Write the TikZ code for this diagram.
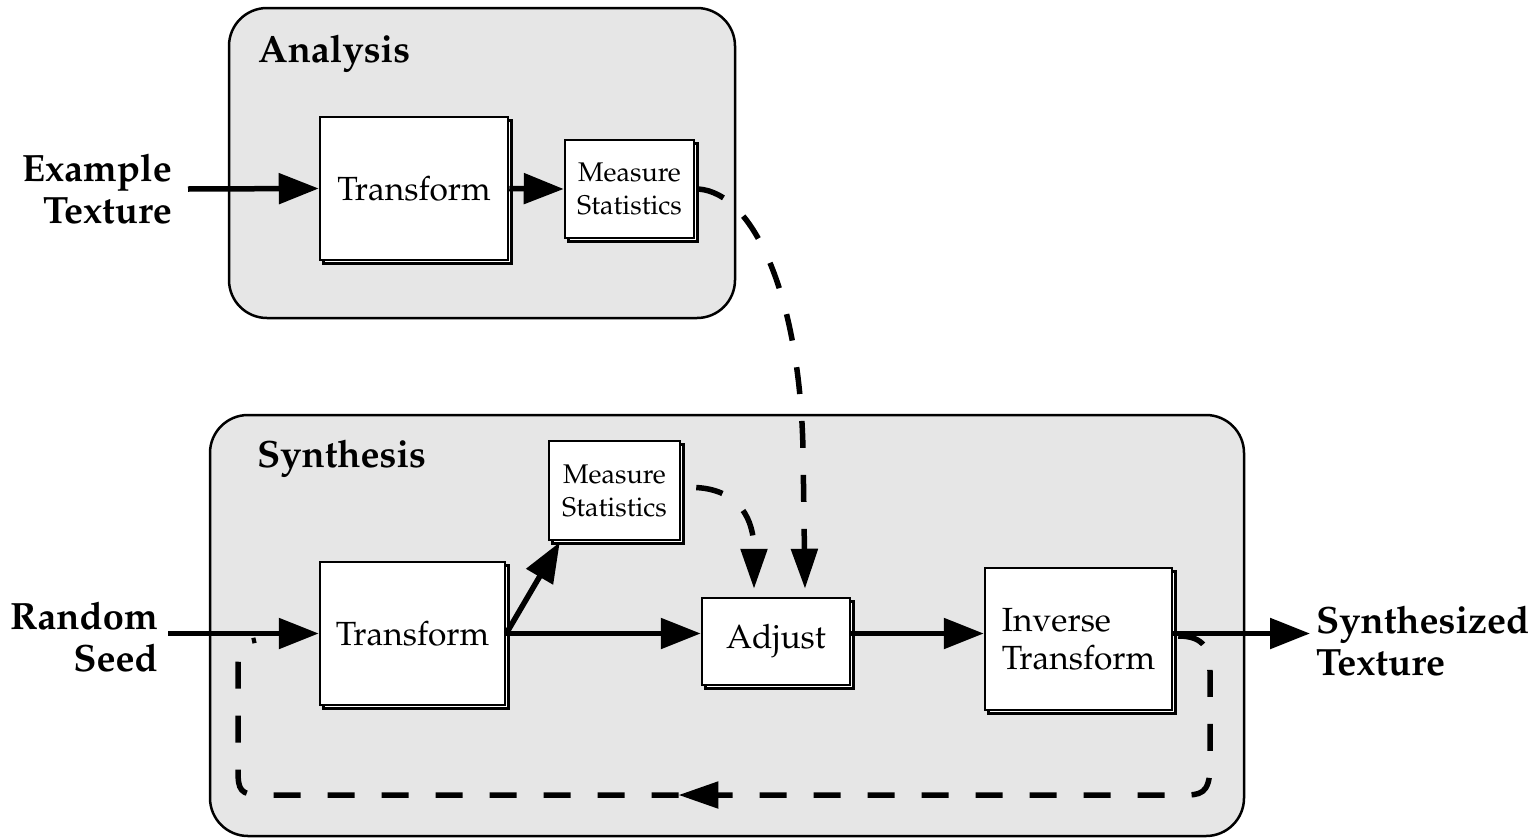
\documentclass[tikz,border=0pt]{standalone}
\usepackage[T1]{fontenc}
\usepackage{mathpazo}
\usetikzlibrary{arrows.meta,shadows,decorations.markings}
\definecolor{grpgray}{HTML}{E6E6E6}
\newcommand\lblfont{\fontsize{38}{42}\selectfont\bfseries}
\newcommand\boxfont{\fontsize{33.5}{38}\selectfont}
\newcommand\smallboxfont{\fontsize{27}{33}\selectfont}
\begin{document}
\begin{tikzpicture}[x=1pt,y=-1pt,
  grp/.style={draw, line width=2.5pt, fill=grpgray, rounded corners=38pt},
  blk/.style={draw, line width=2.5pt, fill=white, inner sep=0pt, align=center,
    copy shadow={shadow xshift=3.5pt, shadow yshift=-3.5pt}},
  lbl/.style={font=\lblfont, inner sep=0pt},
  flow/.style={line width=5.5pt, -{Triangle[length=40pt,width=30pt]}},
  fb/.style={line width=5.5pt, dash pattern=on 27pt off 27pt, -{Triangle[length=40pt,width=26pt]}},
  fbloop/.style={line width=5.5pt, dash pattern=on 27pt off 27pt},
]
\useasboundingbox (0,0) rectangle (1538,838);
% groups
\draw[grp] (229,8) rectangle (735,318);
\draw[grp] (210,415) rectangle (1244,836);
\node[lbl, anchor=west] (ana) at (258,54) {Analysis};
\node[lbl, anchor=west] (syn) at (257,459) {Synthesis};
% boxes
\node[blk, minimum width=188pt, minimum height=143pt, font=\boxfont] (t1) at (414,188.5) {Transform};
\node[blk, minimum width=129pt, minimum height=98pt, font=\smallboxfont] (m1) at (629.5,189) {Measure\\Statistics};
\node[blk, minimum width=131pt, minimum height=99pt, font=\smallboxfont] (m2) at (614.5,490.5) {Measure\\Statistics};
\node[blk, minimum width=185pt, minimum height=143pt, font=\boxfont] (t2) at (412.5,633.5) {Transform};
\node[blk, minimum width=148pt, minimum height=87pt, font=\boxfont] (adj) at (776,641.5) {Adjust};
\node[blk, minimum width=187pt, minimum height=142pt, font=\boxfont, align=left] (inv) at (1078.5,639) {Inverse\\Transform};
% outside labels
\node[lbl, anchor=east, align=right] (ex) at (172,189) {Example\\Texture};
\node[lbl, anchor=east, align=right] (rs) at (158,637) {Random\\Seed};
\node[lbl, anchor=west, align=left] (st) at (1316,641) {Synthesized\\Texture};
% helper coordinates
\coordinate (exOut) at ([xshift=16pt]ex.east);
\coordinate (rsOut) at ([xshift=10pt]rs.east);
\coordinate (stIn) at ([xshift=-6pt]st.west);
\coordinate (m2In) at ([xshift=12pt,yshift=-1pt]m2.south west);
\coordinate (adjA) at ([xshift=-22pt,yshift=8pt]adj.north);
\coordinate (adjB) at ([xshift=29pt,yshift=8pt]adj.north);
\coordinate (m1Out) at ([xshift=3pt]m1.east);
\coordinate (m2Out) at ([xshift=15pt,yshift=3pt]m2.east);
\coordinate (invOut) at ([xshift=5pt,yshift=3pt]inv.east);
\coordinate (loopEnd) at (256,640);
% solid flows
\draw[flow] (exOut) -- (t1.west);
\draw[flow] (t1.east) -- (m1.west);
\draw[flow] (rsOut |- t2.west) -- (t2.west);
\draw[flow] (t2.east) -- (adj.west |- t2.east);
\draw[flow] (t2.east) -- (m2In);
\draw[flow] (adj.east |- t2.east) -- (inv.west |- t2.east);
\draw[flow] (inv.east |- t2.east) -- (stIn |- t2.east);
% dashed
\draw[fb] (m1Out) .. controls (755,193) and (800,300) .. (803,450) -- (adjB);
\draw[fb] (m2Out) .. controls (740,490) and (754,520) .. (adjA);
\draw[fbloop, decoration={markings, mark=at position 0.54 with {\arrow{Triangle[length=40pt,width=26pt]}}}, postaction={decorate}]
  (invOut) .. controls (1205,636) and (1210,650) .. (1210,672) -- (1210,765)
  .. controls (1210,795) and (1200,795) .. (1182,795) -- (262,795)
  .. controls (240,795) and (238,790) .. (238,770) -- (238,665)
  .. controls (238,648) and (244,642) .. (loopEnd);
\end{tikzpicture}
\end{document}
